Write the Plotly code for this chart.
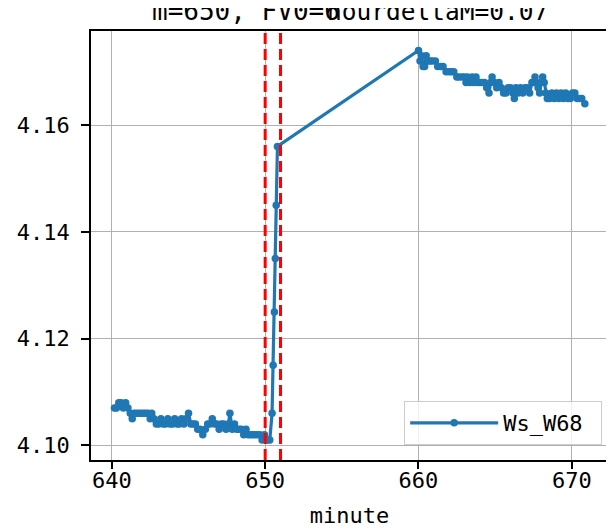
import plotly.graph_objects as go

# ---- data ----
minutes = [
    640.17, 640.3, 640.45, 640.6, 640.75, 640.9, 641.05, 641.2, 641.33, 641.45,
    641.6, 641.75, 641.9, 642.05, 642.2, 642.35, 642.5, 642.6, 642.75, 642.9,
    643.05, 643.2, 643.35, 643.5, 643.65, 643.8, 643.95, 644.1, 644.25, 644.4,
    644.55, 644.7, 644.85, 645.0, 645.15, 645.3, 645.45, 645.6, 645.75, 645.93,
    646.1, 646.25, 646.4, 646.55, 646.7, 646.85, 647.0, 647.15, 647.3, 647.45,
    647.6, 647.7, 647.85, 648.0, 648.15, 648.3, 648.45, 648.6, 648.75, 648.9,
    649.05, 649.2, 649.35, 649.5, 649.65, 649.8, 649.95, 650.1, 650.2, 650.3,
    650.45, 650.52, 650.6, 650.66, 650.72, 650.8,
    660.0, 660.1, 660.2, 660.3, 660.4, 660.5, 660.6, 660.75, 660.9, 661.1,
    661.25, 661.45, 661.6, 661.8, 662.0, 662.15, 662.3, 662.5, 662.65, 662.85,
    663.0, 663.1, 663.2, 663.35, 663.5, 663.6, 663.75, 663.85, 664.0, 664.15,
    664.3, 664.45, 664.6, 664.7, 664.8, 664.95, 665.1, 665.25, 665.4, 665.55,
    665.7, 665.85, 666.0, 666.15, 666.25, 666.35, 666.5, 666.65, 666.8, 666.95,
    667.1, 667.25, 667.4, 667.5, 667.6, 667.7, 667.8, 667.9, 668.0, 668.1,
    668.2, 668.3, 668.4, 668.55, 668.7, 668.85, 669.0, 669.15, 669.3, 669.45,
    669.6, 669.75, 669.9, 670.05, 670.2, 670.35, 670.5, 670.65, 670.85,
]
ws_w68 = [
    4.107, 4.107, 4.108, 4.108, 4.107, 4.108, 4.107, 4.106, 4.105, 4.106,
    4.106, 4.106, 4.106, 4.106, 4.106, 4.106, 4.105, 4.106, 4.105, 4.104,
    4.104, 4.105, 4.104, 4.104, 4.105, 4.104, 4.104, 4.105, 4.104, 4.104,
    4.105, 4.104, 4.105, 4.106, 4.104, 4.104, 4.104, 4.103, 4.103, 4.102,
    4.103, 4.104, 4.104, 4.105, 4.104, 4.104, 4.103, 4.104, 4.104, 4.103,
    4.104, 4.106, 4.103, 4.104, 4.103, 4.103, 4.103, 4.102, 4.103, 4.102,
    4.102, 4.102, 4.102, 4.102, 4.102, 4.101, 4.102, 4.101, 4.101, 4.101,
    4.106, 4.115, 4.125, 4.135, 4.145, 4.156,
    4.174, 4.172, 4.173, 4.171, 4.171, 4.173, 4.172, 4.172, 4.172, 4.172,
    4.171, 4.171, 4.171, 4.170, 4.170, 4.170, 4.170, 4.169, 4.169, 4.169,
    4.169, 4.168, 4.169, 4.168, 4.169, 4.168, 4.169, 4.168, 4.168, 4.168,
    4.168, 4.167, 4.166, 4.168, 4.169, 4.168, 4.167, 4.168, 4.167, 4.166,
    4.166, 4.167, 4.167, 4.166, 4.165, 4.167, 4.166, 4.167, 4.166, 4.167,
    4.167, 4.166, 4.168, 4.168, 4.169, 4.168, 4.167, 4.166, 4.168, 4.169,
    4.168, 4.166, 4.165, 4.165, 4.166, 4.165, 4.166, 4.165, 4.166, 4.165,
    4.166, 4.165, 4.165, 4.166, 4.166, 4.165, 4.165, 4.165, 4.164,
]
series_name = "Ws_W68"
marker_minutes = [650, 651]
x_ticks = [640, 650, 660, 670]
y_ticks = [4.10, 4.12, 4.14, 4.16]
y_tick_text = ["4.10", "4.12", "4.14", "4.16"]
title_part1 = "m=650, FV0=6"
title_part2 = "hourdeltaM=0.07"
x_label = "minute"

FONT = "DejaVu Sans Mono, monospace"
FS = 22

fig = go.Figure()
fig.add_trace(go.Scatter(
    x=minutes, y=ws_w68, mode="lines+markers", name=series_name + "\u00a0",
    line=dict(color="#1f77b4", width=3.2),
    marker=dict(color="#1f77b4", size=7.5),
))

for m in marker_minutes:
    fig.add_shape(type="line", xref="x", yref="paper", x0=m, x1=m, y0=0, y1=1,
                  line=dict(color="red", width=3, dash="11px,5px"), layer="above")

fig.add_annotation(text=title_part1, xref="paper", yref="paper", x=0.1146, y=1,
                   xanchor="left", yanchor="bottom", yshift=3, showarrow=False,
                   font=dict(family=FONT, size=26, color="black"))
fig.add_annotation(text=title_part2, xref="paper", yref="paper", x=0.453, y=1,
                   xanchor="left", yanchor="bottom", yshift=3, showarrow=False,
                   font=dict(family=FONT, size=24.5, color="black"))

# page body adds an 8px margin; size/margins compensate so the plot area lands
# at the reference position in the 614x530 window
fig.update_layout(
    width=606, height=522,
    margin=dict(l=83, r=6, t=23, b=70),
    paper_bgcolor="white", plot_bgcolor="white",
    font=dict(family=FONT, size=FS, color="black"),
    showlegend=True,
    legend=dict(x=0.6057, y=0.035, xanchor="left", yanchor="bottom",
                bgcolor="rgba(255,255,255,0.8)", bordercolor="#cccccc", borderwidth=1,
                font=dict(family=FONT, size=FS), itemwidth=88),
    xaxis=dict(range=[638.64, 672.36], tickvals=x_ticks, showgrid=True,
               gridcolor="#b0b0b0", gridwidth=1.3, zeroline=False, automargin=False,
               showline=True, linecolor="black", linewidth=1.8, mirror=True,
               ticks="outside", ticklen=7, tickwidth=1.5, tickcolor="black",
               tickfont=dict(family=FONT, size=FS), ticklabelstandoff=-7,
               title=dict(text=x_label, font=dict(family=FONT, size=FS), standoff=15)),
    yaxis=dict(range=[4.09725, 4.17764], tickvals=y_ticks, ticktext=y_tick_text,
               showgrid=True, gridcolor="#b0b0b0", gridwidth=1.3, zeroline=False,
               automargin=False,
               showline=True, linecolor="black", linewidth=1.8, mirror=True,
               ticks="outside", ticklen=8, tickwidth=1.5, tickcolor="black",
               tickfont=dict(family=FONT, size=FS), ticklabelstandoff=7),
)

fig.write_html("out.html")
